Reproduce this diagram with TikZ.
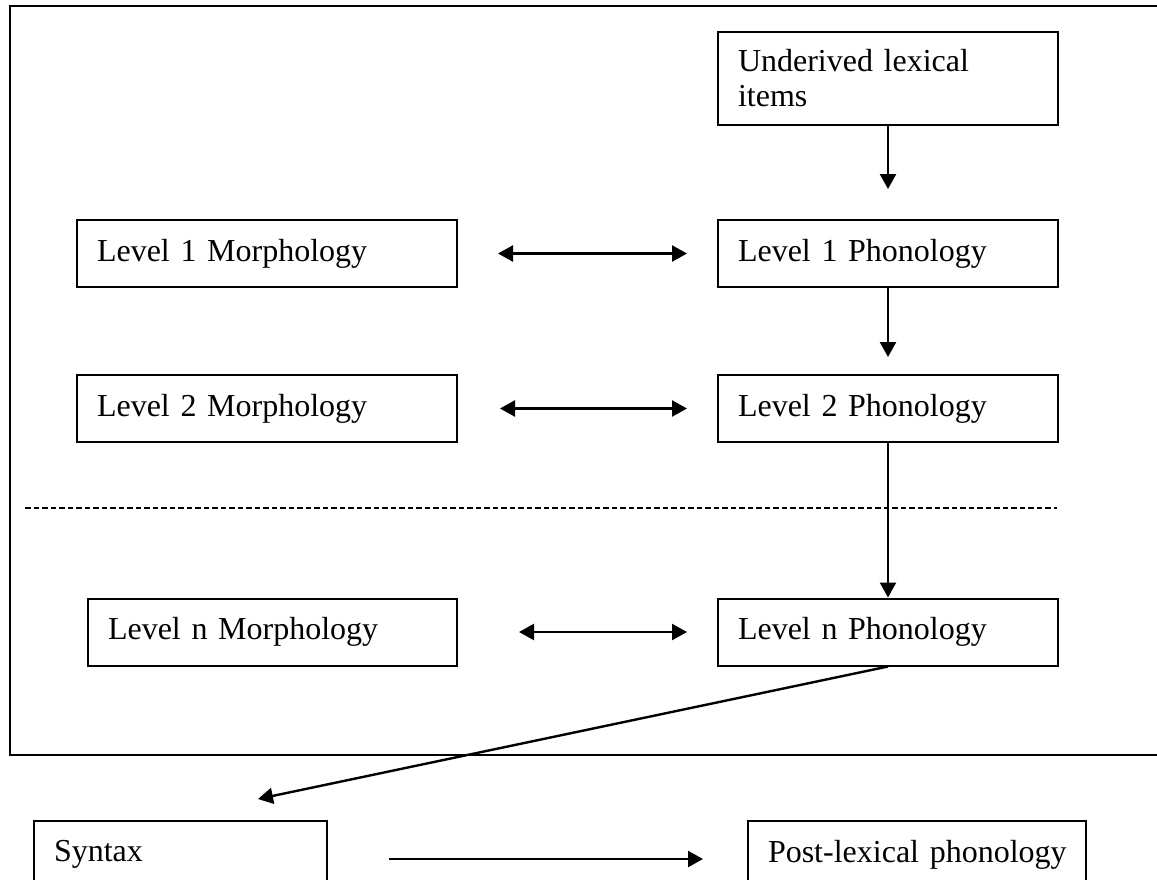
\documentclass[tikz,border=0pt]{standalone}
\usepackage{fontspec}
\setmainfont{Liberation Serif}
\usetikzlibrary{arrows.meta}
\begin{document}
\begin{tikzpicture}[x=1pt,y=-1pt,
  every node/.style={font=\fontsize{32}{35}\selectfont},
  stagebox/.style={draw,line width=2pt,rectangle,minimum height=67pt,
    inner xsep=20pt,inner ysep=0pt,align=left},
  flow/.style={line width=2.4pt,-{Triangle[length=15pt,width=16pt]}},
  twoway/.style={line width=2.4pt,{Triangle[length=15pt,width=16pt]}-{Triangle[length=15pt,width=16pt]}},
  frame/.style={line width=2.6pt},
  divider/.style={line width=2.2pt,dash pattern=on 5.5pt off 3pt}]
\useasboundingbox (0,0) rectangle (1157,879);
\clip (0,0) rectangle (1157,879);

% lexical component frame (open on the right)
\coordinate (fTR) at (1170,6);
\coordinate (fTL) at (10,6);
\coordinate (fBL) at (10,755);
\coordinate (fBR) at (1170,755);
\draw[frame] (fTR) -- (fTL) -- (fBL) -- (fBR);

% boxes
\node[stagebox,minimum height=93pt,text width=300pt] (und) at (888,78.5)
  {Underived lexical\\items};
\node[stagebox,text width=300pt] (p1) at (888,253.5) {Level 1 Phonology};
\node[stagebox,text width=300pt] (p2) at (888,408.5) {Level 2 Phonology};
\node[stagebox,text width=300pt] (pn) at (888,632) {Level n Phonology};
\node[stagebox,text width=340pt] (m1) at (267,253.5) {Level 1 Morphology};
\node[stagebox,text width=340pt] (m2) at (267,408.5) {Level 2 Morphology};
\node[stagebox,text width=329pt] (mn) at (272.5,632) {Level n Morphology};
\node[stagebox,text width=253pt] (syn) at (180.5,854.5) {Syntax};
\node[stagebox,text width=298pt] (post) at (917,854.5) {\mbox{Post-lexical phonology}};

% level separator
\coordinate (dL) at (25,508);
\coordinate (dR) at (1057,508);
\draw[divider] (dL) -- (dR);

% phonology chain
\draw[flow,shorten >=30pt] (und) -- (p1);
\draw[flow,shorten >=17pt] (p1) -- (p2);
\draw[flow] (p2) -- (pn);

% morphology <-> phonology
\draw[twoway,shorten <=40pt,shorten >=30pt] (m1) -- (p1);
\draw[twoway,shorten <=42pt,shorten >=30pt] (m2) -- (p2);
\draw[twoway,shorten <=61pt,shorten >=30pt] (mn) -- (pn);

% out of the lexicon
\coordinate (synIn) at (258,799);
\draw[flow] (pn.south) -- (synIn);
\draw[flow,shorten <=61pt,shorten >=44pt] ([yshift=-4.5pt]syn.east) -- ([yshift=-4.5pt]post.west);
\end{tikzpicture}
\end{document}
